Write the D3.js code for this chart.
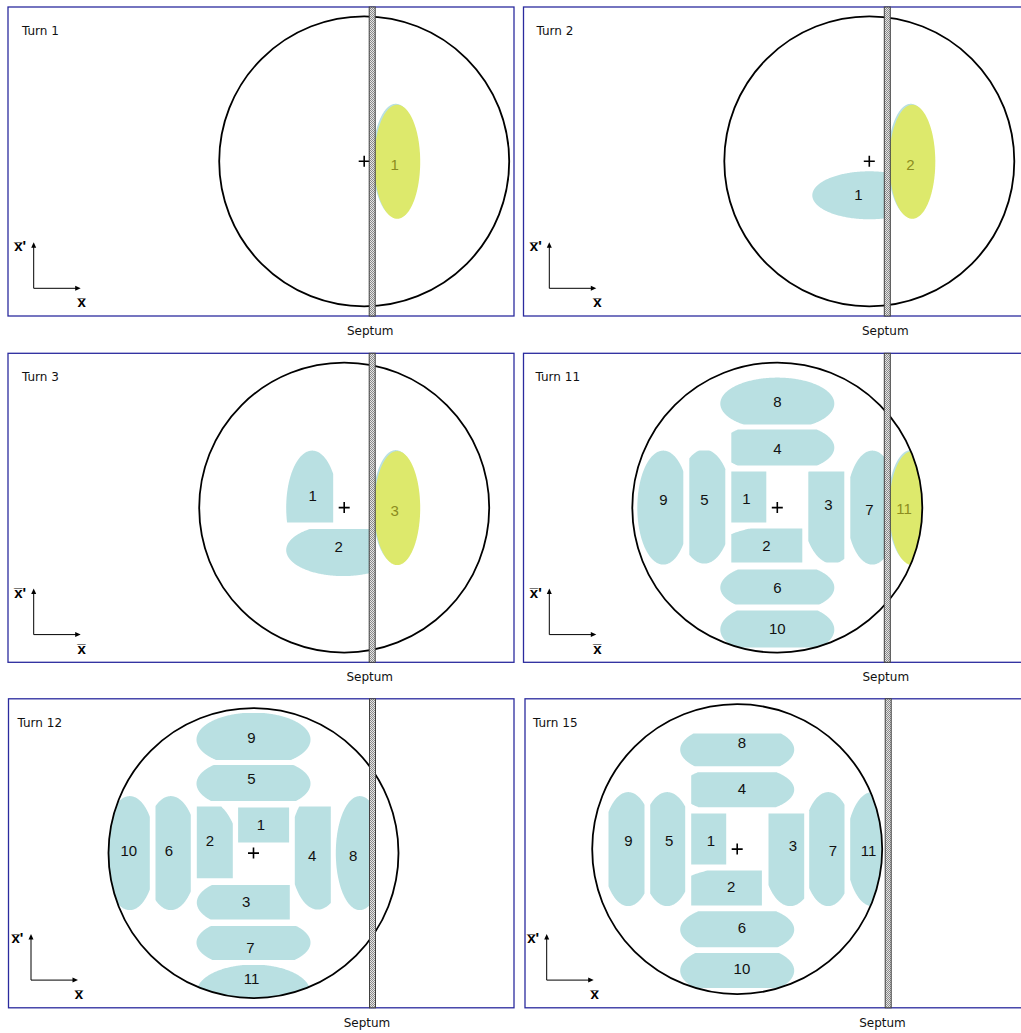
<!DOCTYPE html>
<html><head><meta charset="utf-8">
<script src="https://cdn.jsdelivr.net/npm/d3@7"></script>
<style>body{margin:0;background:#fff}</style>
</head><body><svg id="c" width="1021" height="1033"></svg>
<script>
// ---------------- DATA ----------------
const turnLabels = ["Turn 1", "Turn 2", "Turn 3", "Turn 11", "Turn 12", "Turn 15"];
// closed-orbit position (x relative to septum, x' offset)
const orbitX = [-8, -18, -28, -110, -119, -151];
const orbitY = [0, 0, 0, 0, 0, 4];
const acceptanceRadius = 145;
const septumHalfWidth = 3;
// injected beam (lab frame, relative to septum)
const injectedIds = [1, 2, 3, 11, null, null];
const injLabelX = [22.5, 23, 22.5, 16.7, null, null];
const injLabelY = [-3, -3, -2.5, -1, null, null];
const injBlue = [23.5, 1, 23, 56.5];     // cx, cy, rx, ry
const injYellow = [25, -0.5, 23, 57];
// circulating beamlets, relative to closed orbit:
// [id, labelX, labelY, cx, cy, rx, ry, xLo, xHi, yLo, yHi]
const beamletsTurn1 = [];
const beamletsTurn2 = [
  [1, -11, -33, 0, -34, 57, 24, -57, 57, -58, -10]
];
const beamletsTurn3 = [
  [1, -31.5, 12.5, -32, 0, 26, 57, -60, -11, -15, 57],
  [2, -5.5, -39, -1, -42.5, 57, 26, -60, 60, -69, -21.5]
];
const beamletsTurn11 = [
  [8, 0, 106, 0, 104, 57, 26, -57, 57, 83, 130],
  [4, 0, 59, 0, 60, 57, 25, -46, 57, 42, 78],
  [1, -31, 9, -28, 10, 999, 999, -46, -11, -15, 36],
  [2, -11, -38, 3, -48, 70, 30, -46, 25, -55, -21],
  [3, 51, 3, 55, 1, 30, 57, 31, 67, -55, 36],
  [7, 92, -2, 95, 0, 26, 57, 73, 130, -57, 57],
  [5, -73, 8, -73, 1, 28, 57, -88, -52, -57, 57],
  [9, -114, 8, -114, 0, 26, 57, -140, -94, -57, 57],
  [6, 0, -80, 0, -80, 57, 25, -57, 57, -97, -62],
  [10, 0, -121, 0, -122, 57, 27, -57, 57, -140, -103]
];
const beamletsTurn12 = [
  [9, -2, 115.5, 0, 113.5, 57, 27, -57, 57, 93, 140],
  [5, -2, 74.5, 0, 69.5, 57, 26, -57, 57, 52, 88],
  [10, -124.7, 2.2, -123.7, 0, 26, 57, -160, -103.7, -57, 57],
  [6, -84.7, 2.2, -82.7, 0, 27, 57, -98, -62.7, -57, 57],
  [2, -43.7, 12.2, -48.7, -6.5, 35, 60, -56.7, -20.7, -25.2, 46.5],
  [1, 7.3, 28.8, 10, 28, 999, 999, -15.4, 35.6, 10.5, 45.5],
  [4, 58.6, -2.8, 64.3, 2.5, 28, 59, 41.3, 77.3, -57, 46.5],
  [8, 99.6, -2.2, 106.3, 0, 24, 57, 82, 130, -57, 57],
  [3, -7.4, -48.5, 0.3, -49.5, 57, 26, -56.7, 36.3, -66.5, -31.8],
  [7, -3, -94.5, 0, -89.5, 57, 25, -57, 57, -107, -73],
  [11, -2, -125.2, 0, -139.5, 57, 28, -57, 57, -170, -112]
];
const beamletsTurn15 = [
  [8, 4.7, 106.8, 0, 99.5, 57, 25, -57, 57, 82.8, 115.5],
  [4, 4.7, 60.2, 0, 59.5, 57, 24, -46, 57, 41.8, 76.8],
  [9, -108.7, 8.5, -109, 0, 26, 57, -128.7, -92.7, -57, 57],
  [5, -68, 8.5, -70, 0, 27, 57, -87, -52, -57, 57],
  [1, -26.3, 8.5, -28.5, 10, 999, 999, -46, -11, -15.5, 35.5],
  [2, -6, -37.2, 3, -48, 70, 30, -46, 24.7, -56.5, -21.5],
  [3, 55.7, 3.5, 53, 0, 28, 57, 31.3, 67, -57, 35.5],
  [7, 95.7, -1.2, 91, 0, 26, 57, 72, 107.3, -57, 57],
  [11, 131.3, -1.2, 135, 0, 26, 57, 113, 170, -57, 57],
  [6, 4.7, -78.2, 0, -80.5, 57, 25, -57, 57, -98.2, -62.2],
  [10, 4.7, -119.8, 0, -121.5, 57, 26, -57, 57, -138.8, -103.8]
];
const beamletsByTurn = [beamletsTurn1, beamletsTurn2, beamletsTurn3, beamletsTurn11, beamletsTurn12, beamletsTurn15];

// ---------------- LAYOUT ----------------
const frameLeft = [8, 523.5, 8, 523.5, 8.5, 525];
const frameRightEdge = [514, 1030, 514, 1030, 514, 1030];
const frameTop = [7, 7, 353.3, 353.3, 698.8, 698.8];
const frameH = 309;
const septumPx = [372.2, 887.3, 372.2, 887.3, 372.5, 888.2];
const turnTextDX = [14, 13, 14, 12, 9, 8];
const axisDX = [25.7, 25.8, 25.7, 25.8, 22.5, 21.7];
const septLabelDX = [-2, -2, -2.5, -1.5, -5.5, -5.7];

const BLUE = "#b9e0e2", YELLOW = "#dde96c", FRAME = "#2b2b9e";

const svg = d3.select("#c");
const defs = svg.append("defs");
const pat = defs.append("pattern").attr("id", "hatch").attr("width", 2).attr("height", 2)
  .attr("patternUnits", "userSpaceOnUse");
pat.append("rect").attr("width", 2).attr("height", 2).attr("fill", "#e6e6e6");
pat.append("rect").attr("width", 1).attr("height", 1).attr("fill", "#8a8a8a");
pat.append("rect").attr("x", 1).attr("y", 1).attr("width", 1).attr("height", 1).attr("fill", "#8a8a8a");

function clamp(v, lo, hi) { return Math.max(lo, Math.min(hi, v)); }
function shapePts(cx, cy, rx, ry, xLo, xHi, yLo, yHi) {
  const pts = [];
  const n = 360;
  for (let i = 0; i < n; i++) {
    const t = 2 * Math.PI * i / n;
    pts.push([clamp(cx + rx * Math.cos(t), xLo, xHi), clamp(cy + ry * Math.sin(t), yLo, yHi)]);
  }
  return pts;
}

turnLabels.forEach((label, p) => {
  const g = svg.append("g");
  const top = frameTop[p], left = frameLeft[p], bottom = top + frameH;
  const sx = septumPx[p];
  const cyMid = top + 154.3;
  // lab-frame scales: x relative to septum, x' relative to panel mid
  const xS = d3.scaleLinear().domain([-200, 200]).range([sx - 200, sx + 200]);
  const yS = d3.scaleLinear().domain([-200, 200]).range([cyMid + 200, cyMid - 200]);
  const ox = orbitX[p], oy = orbitY[p];
  const line = d3.line().x(d => xS(d[0])).y(d => yS(d[1])).curve(d3.curveLinearClosed);

  // frame
  g.append("rect").attr("x", left).attr("y", top)
    .attr("width", frameRightEdge[p] - left).attr("height", frameH)
    .attr("fill", "none").attr("stroke", FRAME).attr("stroke-width", 1.3);

  // acceptance clip
  const clipId = "acc" + p;
  defs.append("clipPath").attr("id", clipId).append("circle")
    .attr("cx", xS(ox)).attr("cy", yS(oy))
    .attr("r", xS(ox + acceptanceRadius) - xS(ox));

  const gb = g.append("g").attr("clip-path", `url(#${clipId})`);
  const sepLeft = -septumHalfWidth - ox;   // septum inner edge in orbit frame
  beamletsByTurn[p].forEach(b => {
    const [id, lx, ly, cx, cy, rx, ry, xLo, xHi, yLo, yHi] = b;
    const pts = shapePts(cx, cy, rx, ry, xLo, Math.min(xHi, sepLeft), yLo, yHi)
      .map(d => [d[0] + ox, d[1] + oy]);
    gb.append("path").attr("d", line(pts)).attr("fill", BLUE);
  });
  // injected beam
  if (injectedIds[p] !== null) {
    [[injBlue, BLUE], [injYellow, YELLOW]].forEach(([e, col]) => {
      const pts = shapePts(e[0], e[1] + oy, e[2], e[3], septumHalfWidth - 1, 999, -999, 999);
      gb.append("path").attr("d", line(pts)).attr("fill", col);
    });
  }

  // labels
  beamletsByTurn[p].forEach(b => {
    g.append("text").attr("x", xS(b[1] + ox)).attr("y", yS(b[2] + oy))
      .attr("text-anchor", "middle").attr("dominant-baseline", "central")
      .attr("font-family", "Liberation Sans, Arial, sans-serif").attr("font-size", 15)
      .attr("fill", "#111").text(b[0]);
  });
  if (injectedIds[p] !== null) {
    g.append("text").attr("x", xS(injLabelX[p])).attr("y", yS(injLabelY[p] + oy))
      .attr("text-anchor", "middle").attr("dominant-baseline", "central")
      .attr("font-family", "Liberation Sans, Arial, sans-serif").attr("font-size", 15)
      .attr("fill", "#8c8c20").text(injectedIds[p]);
  }

  // acceptance circle
  g.append("circle").attr("cx", xS(ox)).attr("cy", yS(oy))
    .attr("r", xS(ox + acceptanceRadius) - xS(ox))
    .attr("fill", "none").attr("stroke", "#000").attr("stroke-width", 1.8);
  // closed orbit cross
  const px = xS(ox), py = yS(oy);
  g.append("path").attr("d", `M${px - 5.5},${py}H${px + 5.5}M${px},${py - 5.5}V${py + 5.5}`)
    .attr("stroke", "#000").attr("stroke-width", 1.6);

  // septum
  g.append("rect").attr("x", xS(-septumHalfWidth)).attr("y", top)
    .attr("width", xS(septumHalfWidth) - xS(-septumHalfWidth)).attr("height", frameH)
    .attr("fill", "url(#hatch)").attr("stroke", "#404040").attr("stroke-width", 1);
  g.append("text").attr("x", sx + septLabelDX[p]).attr("y", bottom + 19)
    .attr("text-anchor", "middle").attr("font-family", "DejaVu Sans, Verdana, sans-serif")
    .attr("font-size", 12).attr("fill", "#111").text("Septum");

  // turn label
  g.append("text").attr("x", left + turnTextDX[p]).attr("y", top + 28)
    .attr("font-family", "DejaVu Sans, Verdana, sans-serif").attr("font-size", 12)
    .attr("fill", "#111").text(label);

  // axes indicator
  const ax = left + axisDX[p], ay = bottom - 27.7;
  g.append("path").attr("d", `M${ax},${ay - 42}V${ay}H${ax + 43}`)
    .attr("fill", "none").attr("stroke", "#000").attr("stroke-width", 1);
  g.append("path").attr("d", `M${ax},${ay - 46}L${ax - 2.5},${ay - 40.5}L${ax + 2.5},${ay - 40.5}Z`).attr("fill", "#000");
  g.append("path").attr("d", `M${ax + 47},${ay}L${ax + 41.5},${ay - 2.5}L${ax + 41.5},${ay + 2.5}Z`).attr("fill", "#000");
  g.append("text").attr("x", ax - 13.5).attr("y", ay - 37)
    .attr("text-anchor", "middle").attr("font-family", "Liberation Sans, Arial, sans-serif")
    .attr("font-weight", "bold").attr("font-size", 15).attr("fill", "#000").text("x\u0305'");
  g.append("text").attr("x", ax + 48).attr("y", ay + 19)
    .attr("text-anchor", "middle").attr("font-family", "Liberation Sans, Arial, sans-serif")
    .attr("font-weight", "bold").attr("font-size", 15).attr("fill", "#000").text("x\u0305");
});
</script></body></html>
